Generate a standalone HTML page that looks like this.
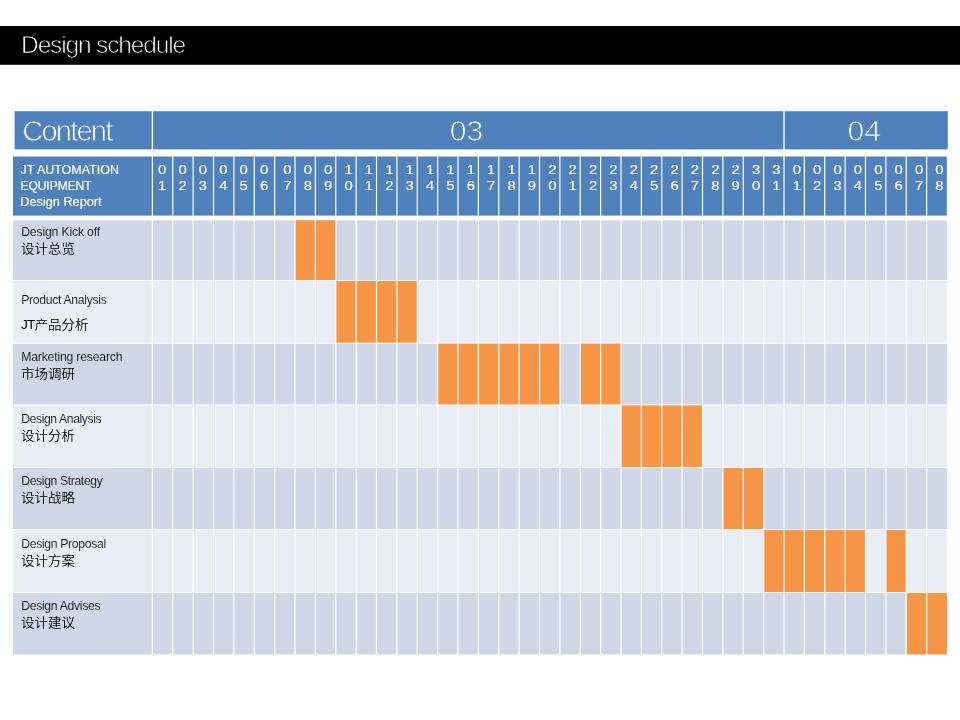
<!DOCTYPE html>
<html lang="en"><head><meta charset="utf-8"><title>Design schedule</title>
<style>
html,body{margin:0;padding:0;background:#fff;}
body{width:960px;height:720px;overflow:hidden;position:relative;font-family:"Liberation Sans","Noto Sans CJK SC",sans-serif;}
svg{position:absolute;left:0;top:0;display:block}
text{font-family:"Liberation Sans","Noto Sans CJK SC",sans-serif;}
.w{fill:#fff}
.hd{font-size:11.9px;fill:#fff;stroke:#fff;stroke-width:0.2px}
.dg{font-size:11.9px;fill:#fff;text-anchor:middle;stroke:#fff;stroke-width:0.15px}
.en{font-size:12.2px;fill:#000;stroke-width:0.14px}
.cn{font-size:13.5px;fill:#000;font-family:"Liberation Sans","Noto Sans CJK SC",sans-serif;font-weight:350}
.cn tspan{font-size:13.8px;font-weight:400;letter-spacing:-0.9px}
.big{font-size:29px;fill:#fff;stroke:#4f81bd;stroke-width:0.8px}
.title{font-size:24.5px;fill:#fff;stroke:#000;stroke-width:0.75px}
</style></head><body>
<svg width="960" height="720" viewBox="0 0 960 720">
<rect x="0" y="0" width="960" height="720" fill="#fff"/>
<rect x="0" y="26" width="960" height="38.8" fill="#000"/>
<text class="title" x="21.1" y="52.7" textLength="165" lengthAdjust="spacing">Design schedule</text>
<rect x="14.6" y="111.2" width="933.2" height="38.2" fill="#4f81bd"/>
<rect x="13" y="156.5" width="933.8" height="59.1" fill="#4f81bd"/>
<rect x="13" y="220.30" width="933.9" height="60.20" fill="#d0d8e8"/>
<rect x="13" y="280.50" width="933.9" height="62.70" fill="#e9edf4"/>
<rect x="13" y="343.20" width="933.9" height="61.70" fill="#d0d8e8"/>
<rect x="13" y="404.90" width="933.9" height="62.60" fill="#e9edf4"/>
<rect x="13" y="467.50" width="933.9" height="62.10" fill="#d0d8e8"/>
<rect x="13" y="529.60" width="933.9" height="62.90" fill="#e9edf4"/>
<rect x="13" y="592.50" width="933.9" height="61.90" fill="#d0d8e8"/>
<rect x="295.02" y="220.30" width="20.37" height="60.20" fill="#f79646"/>
<rect x="315.39" y="220.30" width="20.37" height="60.20" fill="#f79646"/>
<rect x="335.77" y="280.50" width="20.37" height="62.70" fill="#f79646"/>
<rect x="356.14" y="280.50" width="20.37" height="62.70" fill="#f79646"/>
<rect x="376.52" y="280.50" width="20.37" height="62.70" fill="#f79646"/>
<rect x="396.89" y="280.50" width="20.37" height="62.70" fill="#f79646"/>
<rect x="437.64" y="343.20" width="20.37" height="61.70" fill="#f79646"/>
<rect x="458.02" y="343.20" width="20.37" height="61.70" fill="#f79646"/>
<rect x="478.39" y="343.20" width="20.37" height="61.70" fill="#f79646"/>
<rect x="498.76" y="343.20" width="20.37" height="61.70" fill="#f79646"/>
<rect x="519.14" y="343.20" width="20.37" height="61.70" fill="#f79646"/>
<rect x="539.51" y="343.20" width="20.37" height="61.70" fill="#f79646"/>
<rect x="580.26" y="343.20" width="20.37" height="61.70" fill="#f79646"/>
<rect x="600.64" y="343.20" width="20.37" height="61.70" fill="#f79646"/>
<rect x="621.01" y="404.90" width="20.37" height="62.60" fill="#f79646"/>
<rect x="641.38" y="404.90" width="20.37" height="62.60" fill="#f79646"/>
<rect x="661.76" y="404.90" width="20.37" height="62.60" fill="#f79646"/>
<rect x="682.13" y="404.90" width="20.37" height="62.60" fill="#f79646"/>
<rect x="722.88" y="467.50" width="20.37" height="62.10" fill="#f79646"/>
<rect x="743.26" y="467.50" width="20.37" height="62.10" fill="#f79646"/>
<rect x="763.63" y="529.60" width="20.37" height="62.90" fill="#f79646"/>
<rect x="784.01" y="529.60" width="20.37" height="62.90" fill="#f79646"/>
<rect x="804.38" y="529.60" width="20.37" height="62.90" fill="#f79646"/>
<rect x="824.75" y="529.60" width="20.37" height="62.90" fill="#f79646"/>
<rect x="845.13" y="529.60" width="20.37" height="62.90" fill="#f79646"/>
<rect x="885.88" y="529.60" width="20.37" height="62.90" fill="#f79646"/>
<rect x="906.25" y="592.50" width="20.37" height="61.90" fill="#f79646"/>
<rect x="926.63" y="592.50" width="20.37" height="61.90" fill="#f79646"/>
<rect class="w" x="12" y="280.00" width="936" height="1" opacity="0.85"/>
<rect class="w" x="12" y="342.70" width="936" height="1" opacity="0.85"/>
<rect class="w" x="12" y="404.40" width="936" height="1" opacity="0.85"/>
<rect class="w" x="12" y="467.00" width="936" height="1" opacity="0.85"/>
<rect class="w" x="12" y="529.10" width="936" height="1" opacity="0.85"/>
<rect class="w" x="12" y="592.00" width="936" height="1" opacity="0.85"/>
<rect class="w" x="151.80" y="155" width="1.2" height="500"/>
<rect class="w" x="172.17" y="155" width="1.2" height="500"/>
<rect class="w" x="192.55" y="155" width="1.2" height="500"/>
<rect class="w" x="212.92" y="155" width="1.2" height="500"/>
<rect class="w" x="233.30" y="155" width="1.2" height="500"/>
<rect class="w" x="253.67" y="155" width="1.2" height="500"/>
<rect class="w" x="274.05" y="155" width="1.2" height="500"/>
<rect class="w" x="294.42" y="155" width="1.2" height="500"/>
<rect class="w" x="314.79" y="155" width="1.2" height="500"/>
<rect class="w" x="335.17" y="155" width="1.2" height="500"/>
<rect class="w" x="355.54" y="155" width="1.2" height="500"/>
<rect class="w" x="375.92" y="155" width="1.2" height="500"/>
<rect class="w" x="396.29" y="155" width="1.2" height="500"/>
<rect class="w" x="416.67" y="155" width="1.2" height="500"/>
<rect class="w" x="437.04" y="155" width="1.2" height="500"/>
<rect class="w" x="457.42" y="155" width="1.2" height="500"/>
<rect class="w" x="477.79" y="155" width="1.2" height="500"/>
<rect class="w" x="498.16" y="155" width="1.2" height="500"/>
<rect class="w" x="518.54" y="155" width="1.2" height="500"/>
<rect class="w" x="538.91" y="155" width="1.2" height="500"/>
<rect class="w" x="559.29" y="155" width="1.2" height="500"/>
<rect class="w" x="579.66" y="155" width="1.2" height="500"/>
<rect class="w" x="600.04" y="155" width="1.2" height="500"/>
<rect class="w" x="620.41" y="155" width="1.2" height="500"/>
<rect class="w" x="640.78" y="155" width="1.2" height="500"/>
<rect class="w" x="661.16" y="155" width="1.2" height="500"/>
<rect class="w" x="681.53" y="155" width="1.2" height="500"/>
<rect class="w" x="701.91" y="155" width="1.2" height="500"/>
<rect class="w" x="722.28" y="155" width="1.2" height="500"/>
<rect class="w" x="742.66" y="155" width="1.2" height="500"/>
<rect class="w" x="763.03" y="155" width="1.2" height="500"/>
<rect class="w" x="783.41" y="155" width="1.2" height="500"/>
<rect class="w" x="803.78" y="155" width="1.2" height="500"/>
<rect class="w" x="824.15" y="155" width="1.2" height="500"/>
<rect class="w" x="844.53" y="155" width="1.2" height="500"/>
<rect class="w" x="864.90" y="155" width="1.2" height="500"/>
<rect class="w" x="885.28" y="155" width="1.2" height="500"/>
<rect class="w" x="905.65" y="155" width="1.2" height="500"/>
<rect class="w" x="926.03" y="155" width="1.2" height="500"/>
<rect class="w" x="151.70" y="110" width="1.4" height="41"/>
<rect class="w" x="783.31" y="110" width="1.4" height="41"/>
<text class="big" x="22.3" y="141.4" textLength="91" lengthAdjust="spacing">Content</text>
<text class="big" x="449.8" y="141.3" textLength="33.5" lengthAdjust="spacingAndGlyphs">03</text>
<text class="big" x="847.5" y="141.3" textLength="33.5" lengthAdjust="spacingAndGlyphs">04</text>
<text class="hd" x="20.5" y="173.9" textLength="98.4" lengthAdjust="spacingAndGlyphs">JT AUTOMATION</text>
<text class="hd" x="20.4" y="189.8" textLength="71.2" lengthAdjust="spacingAndGlyphs">EQUIPMENT</text>
<text class="hd" x="20.3" y="206" textLength="81.3" lengthAdjust="spacingAndGlyphs">Design Report</text>
<text class="dg" transform="translate(162.19,173.7) scale(1.25,1)">0</text>
<text class="dg" transform="translate(162.19,190.0) scale(1.25,1)">1</text>
<text class="dg" transform="translate(182.56,173.7) scale(1.25,1)">0</text>
<text class="dg" transform="translate(182.56,190.0) scale(1.25,1)">2</text>
<text class="dg" transform="translate(202.94,173.7) scale(1.25,1)">0</text>
<text class="dg" transform="translate(202.94,190.0) scale(1.25,1)">3</text>
<text class="dg" transform="translate(223.31,173.7) scale(1.25,1)">0</text>
<text class="dg" transform="translate(223.31,190.0) scale(1.25,1)">4</text>
<text class="dg" transform="translate(243.68,173.7) scale(1.25,1)">0</text>
<text class="dg" transform="translate(243.68,190.0) scale(1.25,1)">5</text>
<text class="dg" transform="translate(264.06,173.7) scale(1.25,1)">0</text>
<text class="dg" transform="translate(264.06,190.0) scale(1.25,1)">6</text>
<text class="dg" transform="translate(287.43,173.7) scale(1.25,1)">0</text>
<text class="dg" transform="translate(287.43,190.0) scale(1.25,1)">7</text>
<text class="dg" transform="translate(307.81,173.7) scale(1.25,1)">0</text>
<text class="dg" transform="translate(307.81,190.0) scale(1.25,1)">8</text>
<text class="dg" transform="translate(328.18,173.7) scale(1.25,1)">0</text>
<text class="dg" transform="translate(328.18,190.0) scale(1.25,1)">9</text>
<text class="dg" transform="translate(348.56,173.7) scale(1.25,1)">1</text>
<text class="dg" transform="translate(348.56,190.0) scale(1.25,1)">0</text>
<text class="dg" transform="translate(368.93,173.7) scale(1.25,1)">1</text>
<text class="dg" transform="translate(368.93,190.0) scale(1.25,1)">1</text>
<text class="dg" transform="translate(389.31,173.7) scale(1.25,1)">1</text>
<text class="dg" transform="translate(389.31,190.0) scale(1.25,1)">2</text>
<text class="dg" transform="translate(409.68,173.7) scale(1.25,1)">1</text>
<text class="dg" transform="translate(409.68,190.0) scale(1.25,1)">3</text>
<text class="dg" transform="translate(430.05,173.7) scale(1.25,1)">1</text>
<text class="dg" transform="translate(430.05,190.0) scale(1.25,1)">4</text>
<text class="dg" transform="translate(450.43,173.7) scale(1.25,1)">1</text>
<text class="dg" transform="translate(450.43,190.0) scale(1.25,1)">5</text>
<text class="dg" transform="translate(470.80,173.7) scale(1.25,1)">1</text>
<text class="dg" transform="translate(470.80,190.0) scale(1.25,1)">6</text>
<text class="dg" transform="translate(491.18,173.7) scale(1.25,1)">1</text>
<text class="dg" transform="translate(491.18,190.0) scale(1.25,1)">7</text>
<text class="dg" transform="translate(511.55,173.7) scale(1.25,1)">1</text>
<text class="dg" transform="translate(511.55,190.0) scale(1.25,1)">8</text>
<text class="dg" transform="translate(531.93,173.7) scale(1.25,1)">1</text>
<text class="dg" transform="translate(531.93,190.0) scale(1.25,1)">9</text>
<text class="dg" transform="translate(552.30,173.7) scale(1.25,1)">2</text>
<text class="dg" transform="translate(552.30,190.0) scale(1.25,1)">0</text>
<text class="dg" transform="translate(572.67,173.7) scale(1.25,1)">2</text>
<text class="dg" transform="translate(572.67,190.0) scale(1.25,1)">1</text>
<text class="dg" transform="translate(593.05,173.7) scale(1.25,1)">2</text>
<text class="dg" transform="translate(593.05,190.0) scale(1.25,1)">2</text>
<text class="dg" transform="translate(613.42,173.7) scale(1.25,1)">2</text>
<text class="dg" transform="translate(613.42,190.0) scale(1.25,1)">3</text>
<text class="dg" transform="translate(633.80,173.7) scale(1.25,1)">2</text>
<text class="dg" transform="translate(633.80,190.0) scale(1.25,1)">4</text>
<text class="dg" transform="translate(654.17,173.7) scale(1.25,1)">2</text>
<text class="dg" transform="translate(654.17,190.0) scale(1.25,1)">5</text>
<text class="dg" transform="translate(674.55,173.7) scale(1.25,1)">2</text>
<text class="dg" transform="translate(674.55,190.0) scale(1.25,1)">6</text>
<text class="dg" transform="translate(694.92,173.7) scale(1.25,1)">2</text>
<text class="dg" transform="translate(694.92,190.0) scale(1.25,1)">7</text>
<text class="dg" transform="translate(715.29,173.7) scale(1.25,1)">2</text>
<text class="dg" transform="translate(715.29,190.0) scale(1.25,1)">8</text>
<text class="dg" transform="translate(735.67,173.7) scale(1.25,1)">2</text>
<text class="dg" transform="translate(735.67,190.0) scale(1.25,1)">9</text>
<text class="dg" transform="translate(756.04,173.7) scale(1.25,1)">3</text>
<text class="dg" transform="translate(756.04,190.0) scale(1.25,1)">0</text>
<text class="dg" transform="translate(776.42,173.7) scale(1.25,1)">3</text>
<text class="dg" transform="translate(776.42,190.0) scale(1.25,1)">1</text>
<text class="dg" transform="translate(796.79,173.7) scale(1.25,1)">0</text>
<text class="dg" transform="translate(796.79,190.0) scale(1.25,1)">1</text>
<text class="dg" transform="translate(817.17,173.7) scale(1.25,1)">0</text>
<text class="dg" transform="translate(817.17,190.0) scale(1.25,1)">2</text>
<text class="dg" transform="translate(837.54,173.7) scale(1.25,1)">0</text>
<text class="dg" transform="translate(837.54,190.0) scale(1.25,1)">3</text>
<text class="dg" transform="translate(857.92,173.7) scale(1.25,1)">0</text>
<text class="dg" transform="translate(857.92,190.0) scale(1.25,1)">4</text>
<text class="dg" transform="translate(878.29,173.7) scale(1.25,1)">0</text>
<text class="dg" transform="translate(878.29,190.0) scale(1.25,1)">5</text>
<text class="dg" transform="translate(898.66,173.7) scale(1.25,1)">0</text>
<text class="dg" transform="translate(898.66,190.0) scale(1.25,1)">6</text>
<text class="dg" transform="translate(919.04,173.7) scale(1.25,1)">0</text>
<text class="dg" transform="translate(919.04,190.0) scale(1.25,1)">7</text>
<text class="dg" transform="translate(939.41,173.7) scale(1.25,1)">0</text>
<text class="dg" transform="translate(939.41,190.0) scale(1.25,1)">8</text>
<text class="en" stroke="#d0d8e8" x="21.2" y="235.6" textLength="78.9" lengthAdjust="spacing">Design Kick off</text>
<text class="cn" transform="translate(21.1,252.5) scale(1,0.93)">设计总览</text>
<text class="en" stroke="#e9edf4" x="21.2" y="303.7" textLength="85.6" lengthAdjust="spacing">Product Analysis</text>
<text class="cn" transform="translate(21.1,329.0) scale(1,0.93)"><tspan>JT</tspan>产品分析</text>
<text class="en" stroke="#d0d8e8" x="21.2" y="360.6" textLength="101.3" lengthAdjust="spacing">Marketing research</text>
<text class="cn" transform="translate(21.1,378.0) scale(1,0.93)">市场调研</text>
<text class="en" stroke="#e9edf4" x="21.2" y="422.6" textLength="80.4" lengthAdjust="spacing">Design Analysis</text>
<text class="cn" transform="translate(21.1,440.0) scale(1,0.93)">设计分析</text>
<text class="en" stroke="#d0d8e8" x="21.2" y="484.6" textLength="81.6" lengthAdjust="spacing">Design Strategy</text>
<text class="cn" transform="translate(21.1,502.0) scale(1,0.93)">设计战略</text>
<text class="en" stroke="#e9edf4" x="21.2" y="547.8" textLength="84.9" lengthAdjust="spacing">Design Proposal</text>
<text class="cn" transform="translate(21.1,565.0) scale(1,0.93)">设计方案</text>
<text class="en" stroke="#d0d8e8" x="21.2" y="609.6" textLength="79.3" lengthAdjust="spacing">Design Advises</text>
<text class="cn" transform="translate(21.1,626.8) scale(1,0.93)">设计建议</text>
</svg>
</body></html>
